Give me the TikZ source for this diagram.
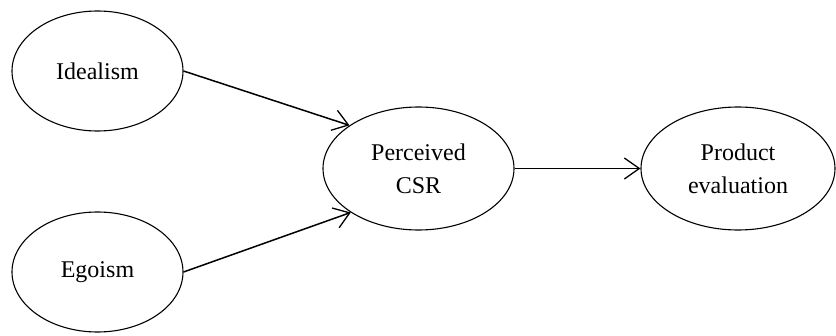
\documentclass[tikz,border=0pt]{standalone}
\usepackage{fontspec}
\setmainfont{Liberation Serif}
\newfontfamily\modelfont{Liberation Serif}
\usetikzlibrary{shapes.geometric,arrows.meta}
\tikzset{
  construct/.style={ellipse, draw, line width=1.1pt, inner sep=0pt,
    align=center, font=\modelfont\fontsize{24}{33}\selectfont},
  path/.style={line width=1.5pt, -{Straight Barb[length=15pt,width=21pt,line width=1.3pt]}}
}
\begin{document}
\begin{tikzpicture}[x=1pt,y=1pt]
\useasboundingbox (0,0) rectangle (836,335);
% Antecedents
\node[construct, minimum width=171pt, minimum height=120pt] (idea) at (97.5,264) {Idealism};
\node[construct, minimum width=171pt, minimum height=120pt] (ego) at (97.5,63) {Egoism};
% Mediator
\node[construct, minimum width=191pt, minimum height=123pt] (perc) at (418.5,166.5) {Perceived\\CSR};
% Outcome
\node[construct, minimum width=194pt, minimum height=123pt] (prod) at (738,166.5) {Product\\evaluation};
% Paths
\draw[path] (idea.east) -- (perc.148);
\draw[path] (ego.east) -- (perc.213);
\draw[path] (perc.east) -- (prod.west);
\end{tikzpicture}
\end{document}
